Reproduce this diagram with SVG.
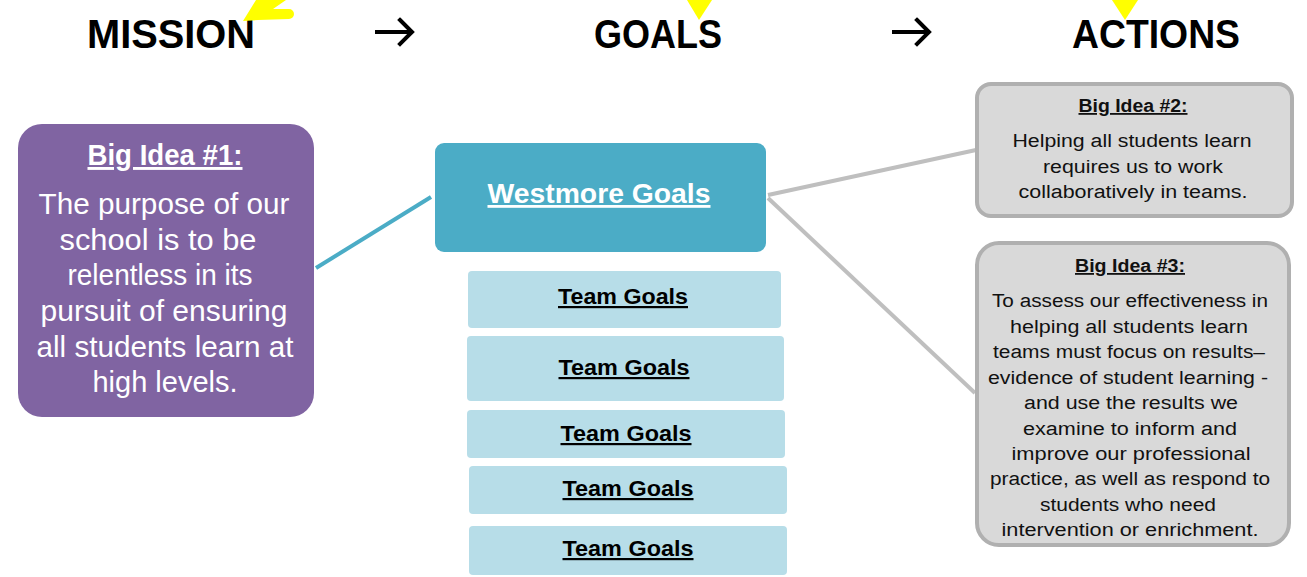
<svg xmlns="http://www.w3.org/2000/svg" width="1307" height="577" viewBox="0 0 1307 577">
<style>
text{font-family:"Liberation Sans",Arial,sans-serif;text-anchor:middle}
.h{font-weight:bold;font-size:40px;fill:#000}
.u{text-decoration:underline;font-weight:bold}
.pw{fill:#fff;font-size:29px}
.g{fill:#111;font-size:18px}
.tg{fill:#000;font-size:22px}
.team{fill:#B7DDE8}
.gray{fill:#D9D9D9;stroke:#B0B0B0;stroke-width:4}
.arr{fill:none;stroke:#000;stroke-width:4;stroke-linecap:square}
.con{fill:none;stroke-width:4}
</style>
<rect width="1307" height="577" fill="#fff"/>
<g id="headings">
<text class="h" x="171" y="48" textLength="168" lengthAdjust="spacingAndGlyphs">MISSION</text>
<text class="h" x="658" y="48" textLength="128" lengthAdjust="spacingAndGlyphs">GOALS</text>
<text class="h" x="1156" y="48" textLength="168" lengthAdjust="spacingAndGlyphs">ACTIONS</text>
<path class="arr" d="M377 32H411M400 20L412 32L400 44"/>
<path class="arr" d="M894 32H928M917 20L929 32L917 44"/>
</g>
<g id="yellow-marks" fill="#FFFF00">
<path d="M243 21L256 0H286L273 9H289A5 5 0 0 1 289 19L258 20Z"/>
<polygon points="687,0 712,0 699,20"/>
<polygon points="1112,0 1138,0 1125,20"/>
</g>
<g id="connectors">
<line class="con" x1="316" y1="268" x2="431" y2="197" stroke="#4BACC6"/>
<line class="con" x1="768" y1="195" x2="976" y2="150" stroke="#BFBFBF"/>
<line class="con" x1="768" y1="198" x2="975" y2="393" stroke="#BFBFBF"/>
</g>
<g id="big-idea-1">
<rect x="18" y="124" width="296" height="293" rx="24" fill="#8064A2"/>
<text class="pw u" x="165" y="165" font-size="26" textLength="155" lengthAdjust="spacingAndGlyphs">Big Idea #1:</text>
<text class="pw" x="164" y="214" textLength="251" lengthAdjust="spacingAndGlyphs">The purpose of our</text>
<text class="pw" x="158" y="250" textLength="197" lengthAdjust="spacingAndGlyphs">school is to be</text>
<text class="pw" x="160" y="285" textLength="185" lengthAdjust="spacingAndGlyphs">relentless in its</text>
<text class="pw" x="164" y="321" textLength="247" lengthAdjust="spacingAndGlyphs">pursuit of ensuring</text>
<text class="pw" x="165" y="357" textLength="257" lengthAdjust="spacingAndGlyphs">all students learn at</text>
<text class="pw" x="165" y="392" textLength="145" lengthAdjust="spacingAndGlyphs">high levels.</text>
</g>
<g id="westmore-goals">
<rect x="435" y="143" width="331" height="109" rx="9" fill="#4BACC6"/>
<text class="u" x="599" y="203" font-size="28" fill="#fff" textLength="223" lengthAdjust="spacingAndGlyphs">Westmore Goals</text>
</g>
<g id="team-goals-1">
<rect class="team" x="468" y="271" width="313" height="57" rx="4"/>
<text class="tg u" x="623" y="304" textLength="130" lengthAdjust="spacingAndGlyphs">Team Goals</text>
</g>
<g id="team-goals-2">
<rect class="team" x="467" y="336" width="317" height="65" rx="4"/>
<text class="tg u" x="624" y="375" textLength="131" lengthAdjust="spacingAndGlyphs">Team Goals</text>
</g>
<g id="team-goals-3">
<rect class="team" x="467" y="410" width="318" height="48" rx="4"/>
<text class="tg u" x="626" y="441" textLength="131" lengthAdjust="spacingAndGlyphs">Team Goals</text>
</g>
<g id="team-goals-4">
<rect class="team" x="469" y="466" width="318" height="48" rx="4"/>
<text class="tg u" x="628" y="496" textLength="131" lengthAdjust="spacingAndGlyphs">Team Goals</text>
</g>
<g id="team-goals-5">
<rect class="team" x="469" y="526" width="318" height="49" rx="4"/>
<text class="tg u" x="628" y="556" textLength="131" lengthAdjust="spacingAndGlyphs">Team Goals</text>
</g>
<g id="big-idea-2">
<rect class="gray" x="977" y="84" width="315" height="132" rx="14"/>
<text class="g u" x="1133" y="112" textLength="109" lengthAdjust="spacingAndGlyphs">Big Idea #2:</text>
<text class="g" x="1132" y="147" textLength="239" lengthAdjust="spacingAndGlyphs">Helping all students learn</text>
<text class="g" x="1133" y="173" textLength="180" lengthAdjust="spacingAndGlyphs">requires us to work</text>
<text class="g" x="1133" y="198" textLength="229" lengthAdjust="spacingAndGlyphs">collaboratively in teams.</text>
</g>
<g id="big-idea-3">
<rect class="gray" x="977" y="243" width="312" height="302" rx="22"/>
<text class="g u" x="1130" y="272" textLength="110" lengthAdjust="spacingAndGlyphs">Big Idea #3:</text>
<text class="g" x="1130" y="307" textLength="276" lengthAdjust="spacingAndGlyphs">To assess our effectiveness in</text>
<text class="g" x="1129" y="333" textLength="238" lengthAdjust="spacingAndGlyphs">helping all students learn</text>
<text class="g" x="1129" y="358" textLength="272" lengthAdjust="spacingAndGlyphs">teams must focus on results–</text>
<text class="g" x="1128" y="384" textLength="280" lengthAdjust="spacingAndGlyphs">evidence of student learning -</text>
<text class="g" x="1131" y="409" textLength="214" lengthAdjust="spacingAndGlyphs">and use  the results we</text>
<text class="g" x="1130" y="435" textLength="214" lengthAdjust="spacingAndGlyphs">examine to inform and</text>
<text class="g" x="1131" y="460" textLength="239" lengthAdjust="spacingAndGlyphs">improve our professional</text>
<text class="g" x="1130" y="485" textLength="280" lengthAdjust="spacingAndGlyphs">practice, as well as respond to</text>
<text class="g" x="1128" y="511" textLength="176" lengthAdjust="spacingAndGlyphs">students who need</text>
<text class="g" x="1130" y="536" textLength="257" lengthAdjust="spacingAndGlyphs">intervention or enrichment.</text>
</g>
</svg>
